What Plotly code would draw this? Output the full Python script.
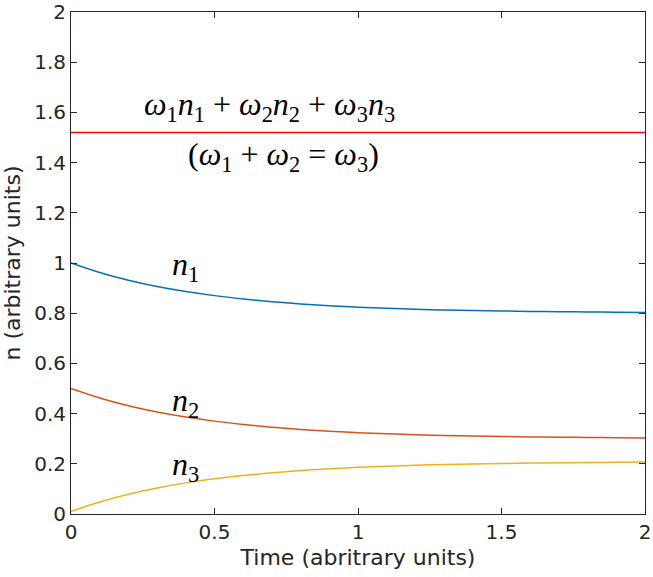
import plotly.graph_objects as go

# Data
time = [0.0, 0.1, 0.2, 0.3, 0.4, 0.5, 0.6, 0.7, 0.8, 0.9, 1.0,
        1.1, 1.2, 1.3, 1.4, 1.5, 1.6, 1.7, 1.8, 1.9, 2.0]
n1 = [1.000, 0.962, 0.931, 0.906, 0.886, 0.870, 0.857, 0.846, 0.837, 0.830, 0.824,
      0.820, 0.816, 0.813, 0.811, 0.809, 0.807, 0.806, 0.805, 0.804, 0.803]
n2 = [0.500, 0.462, 0.431, 0.406, 0.386, 0.370, 0.357, 0.346, 0.337, 0.330, 0.324,
      0.320, 0.316, 0.313, 0.311, 0.309, 0.307, 0.306, 0.305, 0.304, 0.303]
n3 = [0.010, 0.048, 0.079, 0.104, 0.124, 0.140, 0.153, 0.164, 0.173, 0.180, 0.186,
      0.190, 0.194, 0.197, 0.199, 0.201, 0.203, 0.204, 0.205, 0.206, 0.207]
energy = [1.52] * 21

x_ticks = [0, 0.5, 1, 1.5, 2]
x_labels = ["0", "0.5", "1", "1.5", "2"]
y_ticks = [0, 0.2, 0.4, 0.6, 0.8, 1.0, 1.2, 1.4, 1.6, 1.8, 2.0]
y_labels = ["0", "0.2", "0.4", "0.6", "0.8", "1", "1.2", "1.4", "1.6", "1.8", "2"]

fig = go.Figure()
fig.add_trace(go.Scatter(x=time, y=energy, mode="lines",
                         line=dict(color="#FF0000", width=1.5)))
fig.add_trace(go.Scatter(x=time, y=n1, mode="lines",
                         line=dict(color="#0072BD", width=1.5, shape="spline")))
fig.add_trace(go.Scatter(x=time, y=n2, mode="lines",
                         line=dict(color="#D95319", width=1.5, shape="spline")))
fig.add_trace(go.Scatter(x=time, y=n3, mode="lines",
                         line=dict(color="#EDB120", width=1.5, shape="spline")))

mfont = dict(family="Liberation Serif, DejaVu Serif, serif", size=32, color="black")
ann = [
    (0.69, 1.625, "<i>ω</i><sub>1</sub><i>n</i><sub>1</sub> + <i>ω</i><sub>2</sub><i>n</i><sub>2</sub> + <i>ω</i><sub>3</sub><i>n</i><sub>3</sub>"),
    (0.74, 1.425, "(<i>ω</i><sub>1</sub> + <i>ω</i><sub>2</sub> = <i>ω</i><sub>3</sub>)"),
    (0.40, 0.985, "<i>n</i><sub>1</sub>"),
    (0.40, 0.445, "<i>n</i><sub>2</sub>"),
    (0.40, 0.19, "<i>n</i><sub>3</sub>"),
]
for x, y, t in ann:
    fig.add_annotation(x=x, y=y, text=t, showarrow=False, font=mfont,
                       xanchor="center", yanchor="middle")

axis_common = dict(
    showgrid=False, zeroline=False, showline=True, linecolor="#262626", linewidth=1,
    mirror="ticks", ticks="inside", ticklen=6, tickcolor="#262626", tickwidth=1,
    tickfont=dict(family="DejaVu Sans", size=20, color="#262626"),
    automargin=False,
)
fig.update_layout(
    width=653, height=577,
    margin=dict(l=71, r=8, t=12, b=63),
    paper_bgcolor="white", plot_bgcolor="white",
    showlegend=False,
    xaxis=dict(range=[0, 2], tickvals=x_ticks, ticktext=x_labels,
               title=dict(text="Time (abritrary units)", standoff=6,
                          font=dict(family="DejaVu Sans", size=22, color="#262626")),
               **axis_common),
    yaxis=dict(range=[0, 2], tickvals=y_ticks, ticktext=y_labels,
               title=dict(text="n (arbitrary units)", standoff=9,
                          font=dict(family="DejaVu Sans", size=22, color="#262626")),
               **axis_common),
)
# remove the page's default body margin so the figure sits at the window origin
fig.write_html("out.html",
               config={"displayModeBar": False},
               post_script="document.body.style.margin='0';document.body.style.overflow='hidden';")
